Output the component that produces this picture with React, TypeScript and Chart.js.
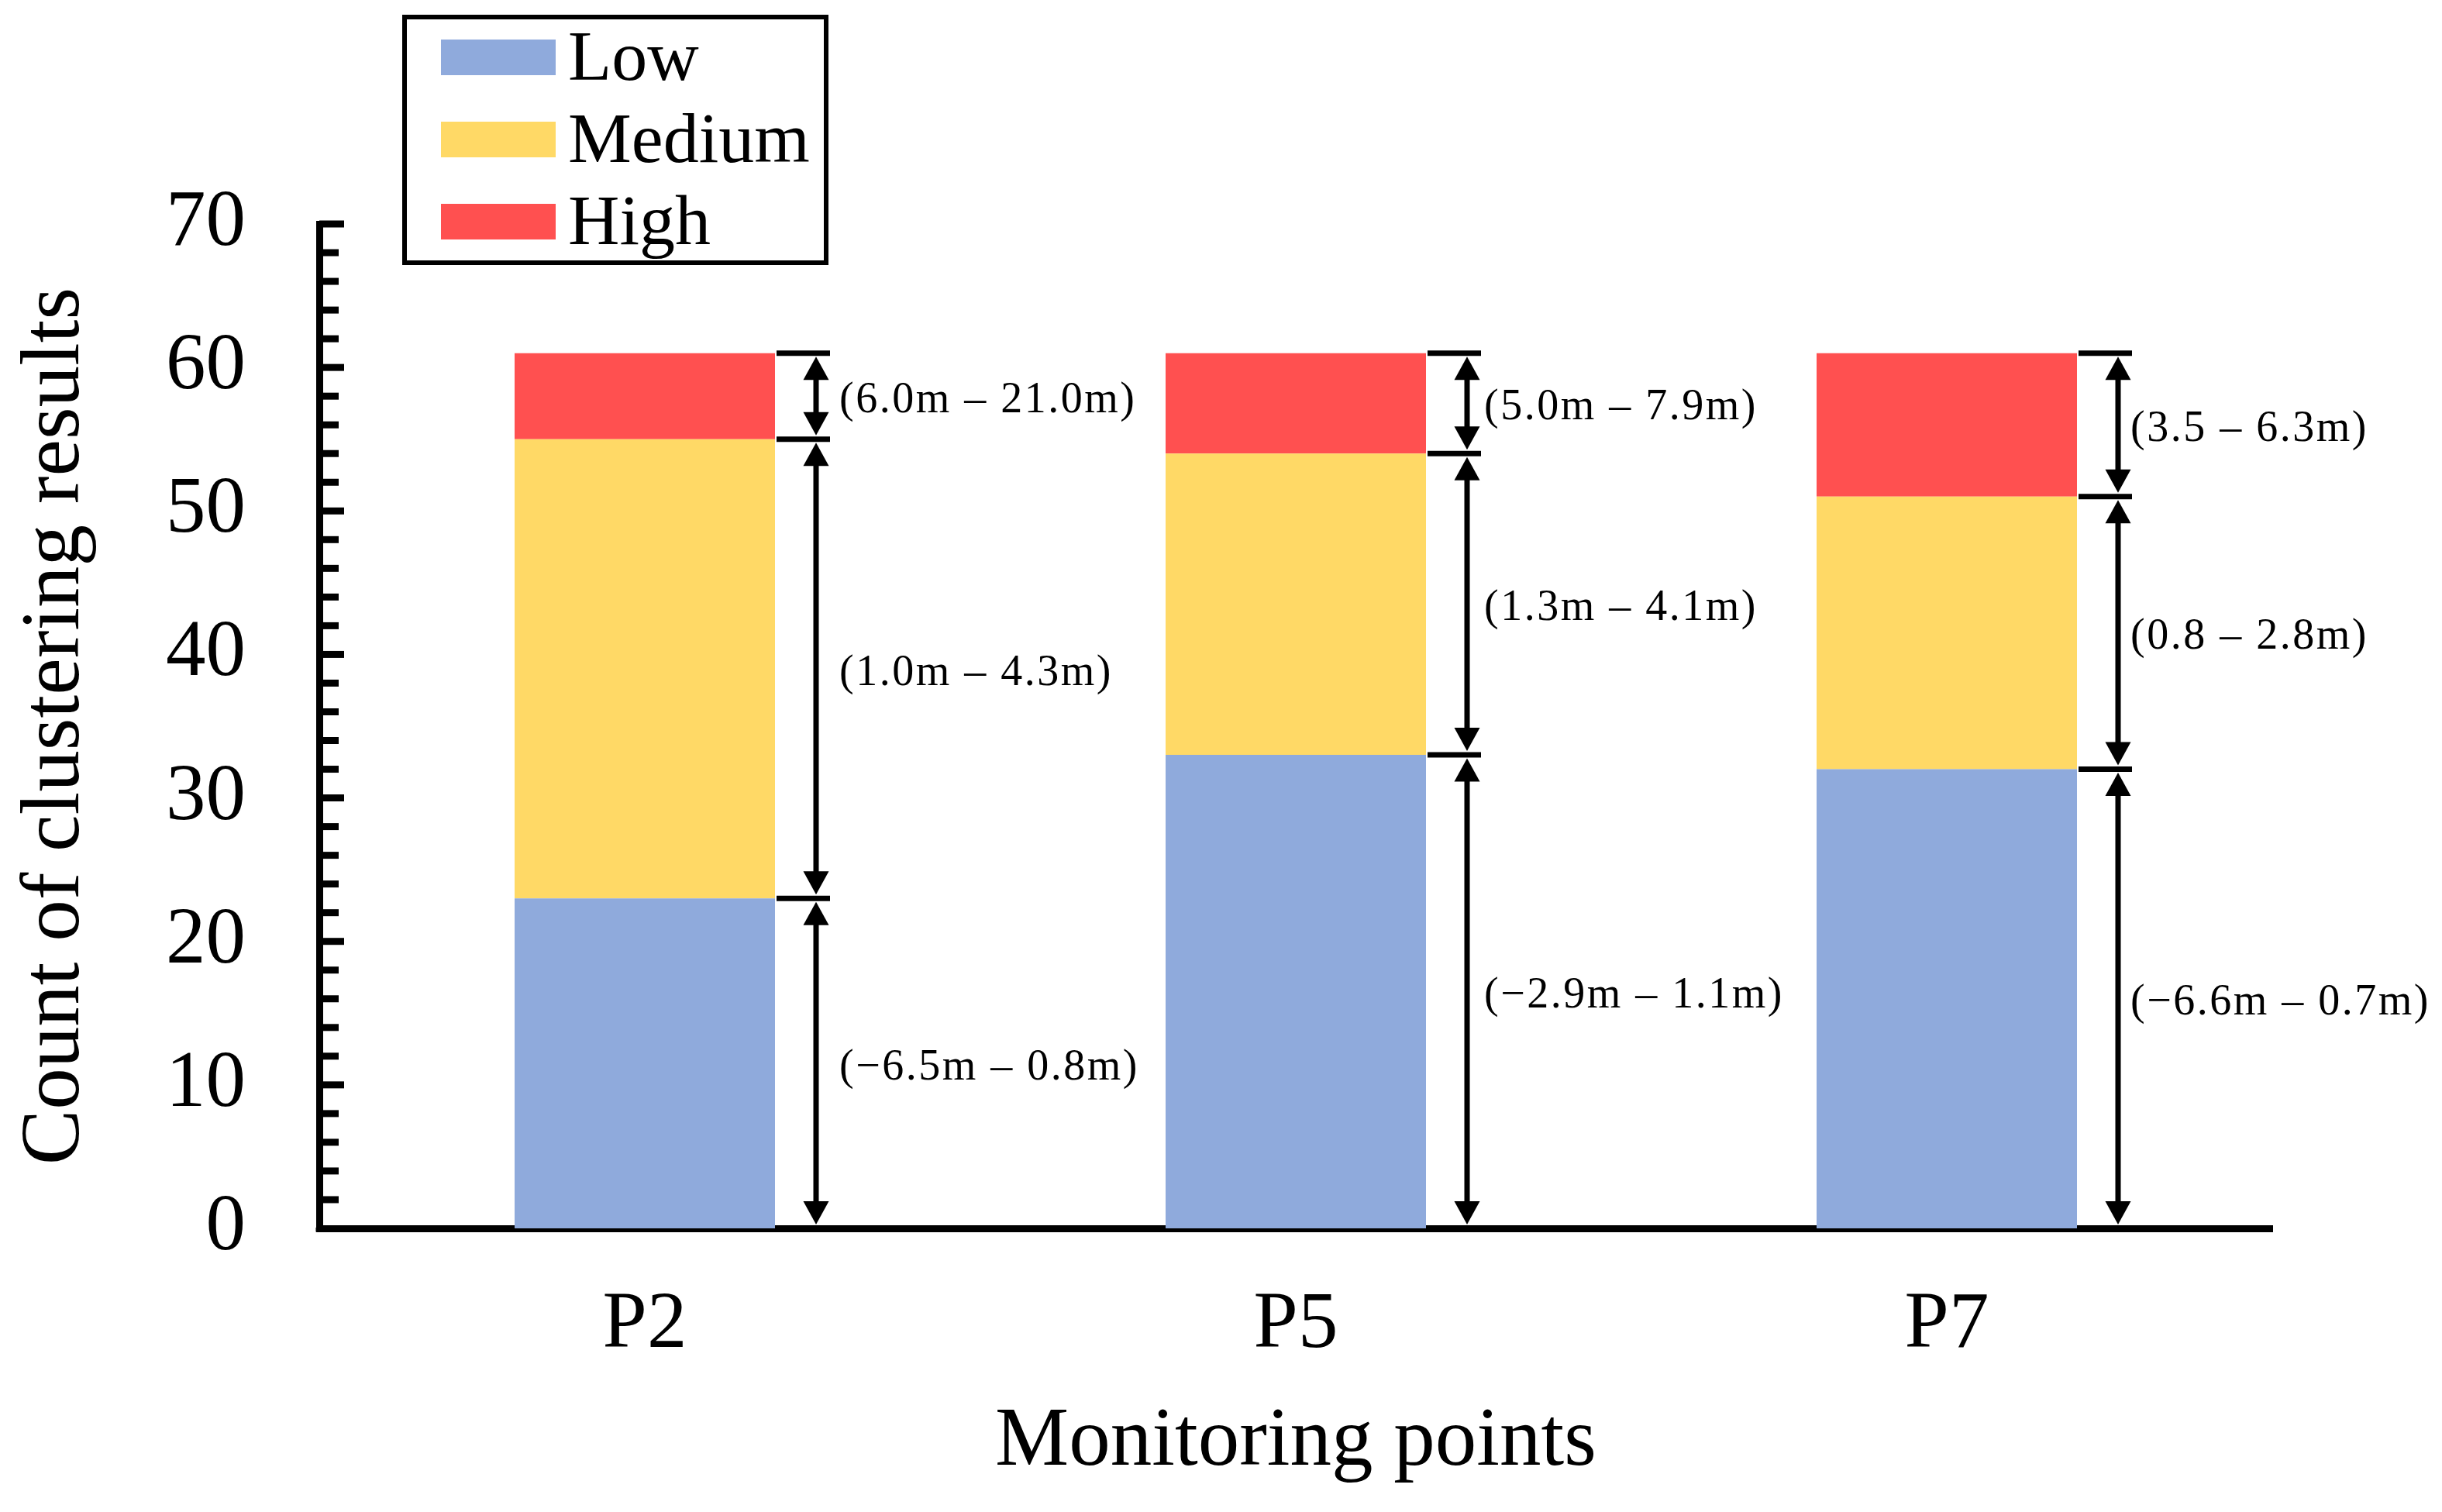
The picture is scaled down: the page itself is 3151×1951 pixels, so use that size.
import React, { useEffect, useRef } from "react";
import { Chart, registerables, Plugin } from "chart.js";

Chart.register(...registerables);

// categories and counts
const categories = ["P2", "P5", "P7"];
const seriesNames = ["Low", "Medium", "High"];
const lowCounts = [23, 33, 32];
const mediumCounts = [32, 21, 19];
const highCounts = [6, 7, 10];

// range labels shown next to each segment
const lowRanges = ["(−6.5m – 0.8m)", "(−2.9m – 1.1m)", "(−6.6m – 0.7m)"];
const mediumRanges = ["(1.0m – 4.3m)", "(1.3m – 4.1m)", "(0.8 – 2.8m)"];
const highRanges = ["(6.0m – 21.0m)", "(5.0m – 7.9m)", "(3.5 – 6.3m)"];

const yMax = 70;
const yMajorStep = 10;
const yMinorStep = 2;

const seriesColors = ["#8FAADC", "#FFD966", "#FF5050"];
const FONT = "'Liberation Serif', 'Times New Roman', serif";

// gap between arrow and its label, per category
const labelGap = [30, 22, 16];

const innerTicks: Plugin = {
  id: "innerTicks",
  afterDraw(chart) {
    const { ctx } = chart;
    const y = chart.scales.y;
    const x0 = chart.chartArea.left;
    ctx.save();
    ctx.strokeStyle = "#000";
    ctx.lineWidth = 9;
    for (let v = yMinorStep; v <= yMax; v += yMinorStep) {
      const py = y.getPixelForValue(v);
      const len = v % yMajorStep === 0 ? 32 : 25;
      ctx.beginPath();
      ctx.moveTo(x0, py);
      ctx.lineTo(x0 + len, py);
      ctx.stroke();
    }
    // close the corner where the two axis lines meet
    ctx.fillStyle = "#000";
    ctx.fillRect(x0 - 4.5, chart.chartArea.bottom - 1, 9, 5.5);
    ctx.restore();
  },
};

function arrowHead(ctx: CanvasRenderingContext2D, x: number, tipY: number, dir: number) {
  const w = 16.5;
  const h = 30;
  ctx.beginPath();
  ctx.moveTo(x, tipY);
  ctx.lineTo(x - w, tipY + dir * h);
  ctx.lineTo(x + w, tipY + dir * h);
  ctx.closePath();
  ctx.fill();
}

const rangeArrows: Plugin = {
  id: "rangeArrows",
  afterDatasetsDraw(chart) {
    const { ctx } = chart;
    const ranges = [lowRanges, mediumRanges, highRanges];
    ctx.save();
    ctx.strokeStyle = "#000";
    ctx.fillStyle = "#000";
    categories.forEach((_, i) => {
      for (let d = 0; d < ranges.length; d++) {
        const bar: any = chart.getDatasetMeta(d).data[i];
        const { x, y: top, base, width } = bar.getProps(["x", "y", "base", "width"], true);
        const right = x + width / 2;
        const ax = right + 53;

        // cap at the top of the segment
        ctx.lineWidth = 7;
        ctx.beginPath();
        ctx.moveTo(right + 2, top);
        ctx.lineTo(right + 71, top);
        ctx.stroke();

        // double-headed arrow spanning the segment
        const tipTop = top + 4.5;
        const tipBot = base - 5;
        ctx.beginPath();
        ctx.moveTo(ax, tipTop + 20);
        ctx.lineTo(ax, tipBot - 20);
        ctx.stroke();
        arrowHead(ctx, ax, tipTop, 1);
        arrowHead(ctx, ax, tipBot, -1);

        ctx.font = `56px ${FONT}`;
        (ctx as any).letterSpacing = "2.5px";
        ctx.textAlign = "left";
        ctx.textBaseline = "middle";
        ctx.fillText(ranges[d][i], ax + labelGap[i], (top + base) / 2 + 6);
        (ctx as any).letterSpacing = "0px";
      }
    });
    ctx.restore();
  },
};

const boxedLegend: Plugin = {
  id: "boxedLegend",
  afterDraw(chart) {
    const { ctx } = chart;
    ctx.save();
    ctx.fillStyle = "#fff";
    ctx.fillRect(522, 22, 544, 317);
    ctx.strokeStyle = "#000";
    ctx.lineWidth = 6;
    ctx.strokeRect(522, 22, 544, 317);
    ctx.font = `92px ${FONT}`;
    ctx.textAlign = "left";
    ctx.textBaseline = "middle";
    chart.data.datasets.forEach((ds, k) => {
      const cy = 74 + k * 106;
      ctx.fillStyle = ds.backgroundColor as string;
      ctx.fillRect(569, cy - 23, 148, 46);
      ctx.fillStyle = "#000";
      ctx.fillText(ds.label as string, 733, cy + 5);
    });
    ctx.restore();
  },
};

const App: React.FC = () => {
  const canvasRef = useRef<HTMLCanvasElement | null>(null);
  const chartRef = useRef<Chart | null>(null);

  useEffect(() => {
    if (!canvasRef.current) return;
    if (chartRef.current) chartRef.current.destroy();

    const counts = [lowCounts, mediumCounts, highCounts];

    chartRef.current = new Chart(canvasRef.current, {
      type: "bar",
      data: {
        labels: categories,
        datasets: seriesNames.map((name, k) => ({
          label: name,
          data: counts[k],
          backgroundColor: seriesColors[k],
          borderWidth: 0,
          barPercentage: 0.4,
          categoryPercentage: 1,
        })),
      },
      options: {
        responsive: false,
        devicePixelRatio: 1,
        animation: false,
        layout: { padding: { left: 0, top: 289, right: 219, bottom: 0 } },
        plugins: {
          legend: { display: false },
          tooltip: { enabled: false },
        },
        scales: {
          x: {
            stacked: true,
            z: 1,
            grid: { display: false, drawTicks: false },
            border: { display: true, color: "#000", width: 9 },
            ticks: {
              color: "#000",
              font: { family: FONT, size: 103, lineHeight: 1 },
              padding: 74,
              maxRotation: 0,
              autoSkip: false,
            },
            title: {
              display: true,
              text: "Monitoring points",
              color: "#000",
              font: { family: FONT, size: 107, lineHeight: 1 },
              padding: { top: 0, bottom: 36 },
            },
            afterFit: (scale) => {
              scale.height = 366;
            },
          },
          y: {
            stacked: true,
            z: 1,
            min: 0,
            max: yMax,
            grid: { display: false, drawTicks: false },
            border: { display: true, color: "#000", width: 9 },
            ticks: {
              stepSize: yMajorStep,
              color: "#000",
              font: { family: FONT, size: 103, lineHeight: 1 },
              padding: 95,
            },
            title: {
              display: true,
              text: "Count of clustering results",
              color: "#000",
              font: { family: FONT, size: 107, lineHeight: 1 },
              padding: { top: 19, bottom: 0 },
            },
            afterFit: (scale) => {
              scale.width = 412;
            },
          },
        },
      },
      plugins: [rangeArrows, innerTicks, boxedLegend],
    });

    return () => {
      if (chartRef.current) {
        chartRef.current.destroy();
        chartRef.current = null;
      }
    };
  }, []);

  return (
    <div style={{ position: "absolute", left: 0, top: 0, width: 3151, height: 1951, background: "#fff" }}>
      <canvas ref={canvasRef} width={3151} height={1951} style={{ display: "block" }} />
    </div>
  );
};

export default App;
